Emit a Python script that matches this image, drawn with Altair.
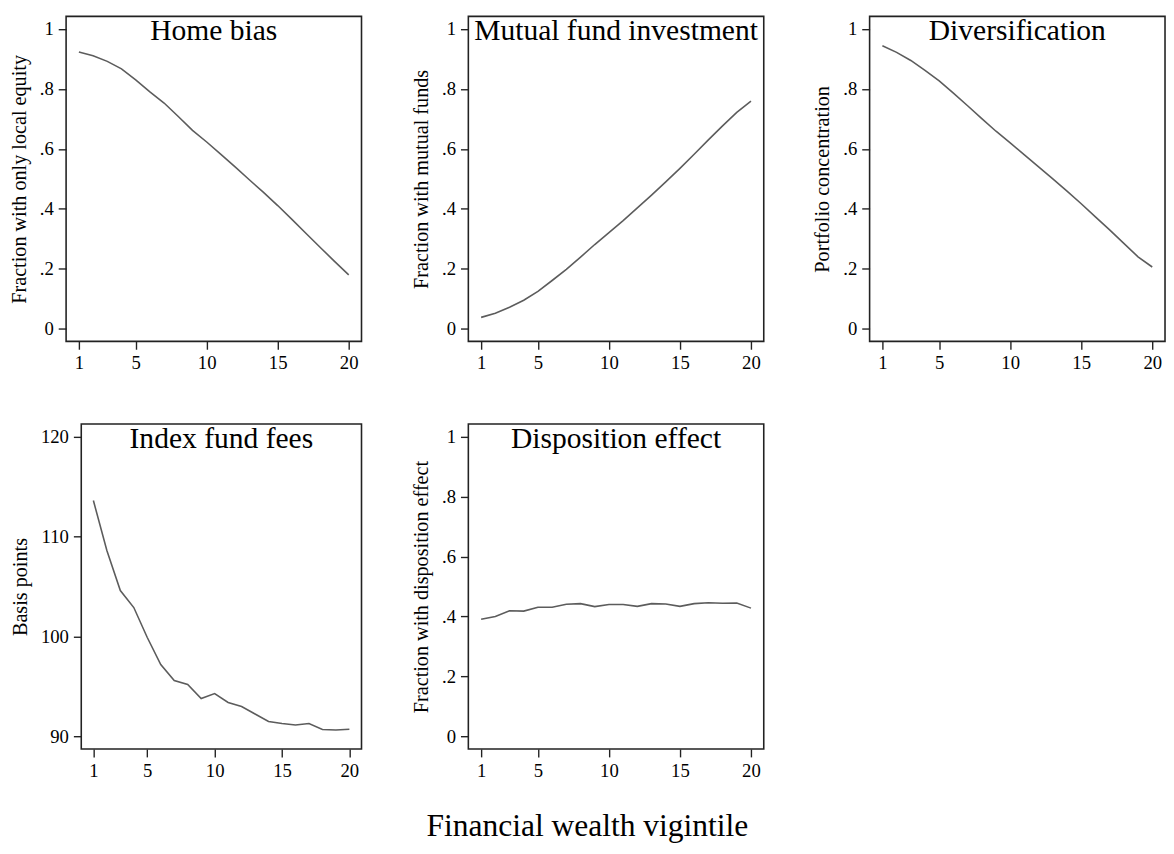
import altair as alt
import pandas as pd

vigintile = list(range(1, 21))

home_bias = [0.923, 0.911, 0.892, 0.867, 0.830, 0.790, 0.753, 0.708, 0.662, 0.623,
             0.582, 0.540, 0.497, 0.455, 0.411, 0.365, 0.318, 0.271, 0.225, 0.180]
mutual_funds = [0.038, 0.052, 0.072, 0.095, 0.125, 0.161, 0.198, 0.239, 0.281, 0.321,
                0.361, 0.403, 0.446, 0.490, 0.535, 0.582, 0.630, 0.677, 0.722, 0.759]
concentration = [0.944, 0.922, 0.895, 0.862, 0.827, 0.786, 0.744, 0.701, 0.659, 0.620,
                 0.580, 0.540, 0.500, 0.459, 0.417, 0.373, 0.330, 0.285, 0.240, 0.206]
index_fees = [113.6, 108.6, 104.6, 102.9, 99.9, 97.2, 95.6, 95.2, 93.8, 94.3,
              93.4, 93.0, 92.25, 91.5, 91.3, 91.15, 91.3, 90.7, 90.65, 90.72]
disposition = [0.391, 0.400, 0.419, 0.418, 0.431, 0.431, 0.441, 0.443, 0.433, 0.440,
               0.440, 0.434, 0.443, 0.442, 0.434, 0.443, 0.446, 0.444, 0.445, 0.428]

titles = ["Home bias", "Mutual fund investment", "Diversification",
          "Index fund fees", "Disposition effect"]
ytitles = ["Fraction with only local equity", "Fraction with mutual funds",
           "Portfolio concentration", "Basis points", "Fraction with disposition effect"]
x_ticks = [1, 5, 10, 15, 20]
frac_ticks = [0, 0.2, 0.4, 0.6, 0.8, 1]
fee_ticks = [90, 100, 110, 120]
x_domain = [0.1, 20.9]
frac_domain = [-0.042, 1.042]
fee_domain = [88.75, 121.25]

FONT = "Liberation Serif"
LINE = "#5c5c5c"
FRAME = "#222222"
W, H = 300, 330


def panel(values, title, ytitle, yticks, ydomain, frac=True, inset=0):
    df = pd.DataFrame({"v": vigintile, "y": values})
    label_expr = ("replace(format(datum.value, '.1~f'), '0.', '.')" if frac
                  else "format(datum.value, 'd')")
    if inset:
        xscale = alt.Scale(domain=x_domain, nice=False, zero=False, range=[inset, W])
    else:
        xscale = alt.Scale(domain=x_domain, nice=False, zero=False)
    yscale = alt.Scale(domain=ydomain, nice=False, zero=False)
    xaxis = alt.Axis(values=x_ticks, title=None, labelAngle=0)
    if inset:
        yaxis = alt.Axis(values=yticks, title=ytitle, labelExpr=label_expr, offset=-inset)
    else:
        yaxis = alt.Axis(values=yticks, title=ytitle, labelExpr=label_expr)

    line = alt.Chart(df).mark_line(color=LINE, strokeWidth=1.6).encode(
        x=alt.X("v:Q", scale=xscale, axis=xaxis),
        y=alt.Y("y:Q", scale=yscale, axis=yaxis),
    )
    head = alt.Chart(pd.DataFrame({"t": [title]})).mark_text(
        font=FONT, fontSize=30, baseline="alphabetic", align="center", color="black"
    ).encode(text="t:N", x=alt.value(inset + (W - inset) / 2), y=alt.value(24))
    layers = [line, head]
    if inset:
        box = pd.DataFrame({"v": [x_domain[0]], "v2": [x_domain[1]],
                            "y": [ydomain[0]], "y2": [ydomain[1]]})
        frame = alt.Chart(box).mark_rect(fillOpacity=0, stroke=FRAME, strokeWidth=1.6).encode(
            x=alt.X("v:Q", scale=xscale, axis=xaxis), x2="v2:Q",
            y=alt.Y("y:Q", scale=yscale, axis=yaxis), y2="y2:Q",
        )
        layers.append(frame)
    ch = alt.layer(*layers).properties(width=W, height=H)
    if inset:
        ch = ch.properties(view=alt.ViewBackground(stroke="transparent"))
    return ch


p1 = panel(home_bias, titles[0], ytitles[0], frac_ticks, frac_domain)
p2 = panel(mutual_funds, titles[1], ytitles[1], frac_ticks, frac_domain)
p3 = panel(concentration, titles[2], ytitles[2], frac_ticks, frac_domain)
p4 = panel(index_fees, titles[3], ytitles[3], fee_ticks, fee_domain, frac=False, inset=15.4)
p5 = panel(disposition, titles[4], ytitles[4], frac_ticks, frac_domain)

chart = alt.concat(p1, p2, p3, p4, p5, columns=3).properties(
    spacing={"row": 49, "column": 47.5},
    title=alt.TitleParams("Financial wealth vigintile", orient="bottom", anchor="middle",
                          offset=56, baseline="alphabetic", fontSize=32, font=FONT,
                          fontWeight="normal", color="black"),
    padding={"left": 0, "top": 1, "right": 0, "bottom": 0},
).configure_axis(
    labelFont=FONT, labelFontSize=19, labelColor="black",
    titleFont=FONT, titleFontSize=20.5, titleFontWeight="normal", titleColor="black",
    tickColor=FRAME, tickWidth=1.4, tickSize=8, labelPadding=5, titlePadding=10,
    grid=False, domain=False,
).configure_view(stroke=FRAME, strokeWidth=1.6)

chart.save("out.html", embed_options={"renderer": "svg", "actions": False})
